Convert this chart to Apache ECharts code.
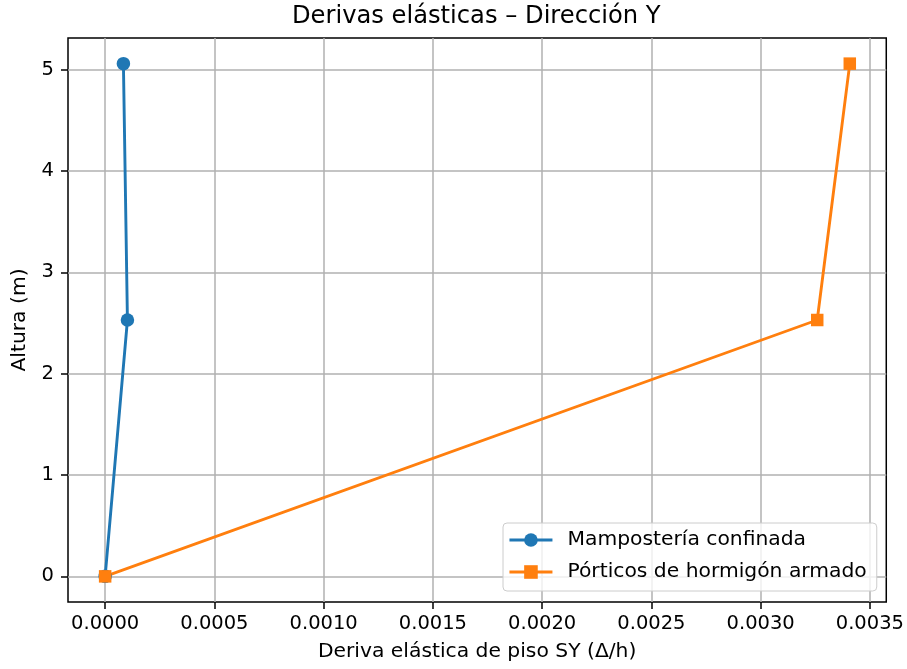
<!DOCTYPE html>
<html>
<head>
    <meta charset="UTF-8">
    <script src="https://cdn.jsdelivr.net/npm/echarts@6/dist/echarts.min.js"></script>
    <style>
        html, body { margin: 0; padding: 0; background: #fff; }
        #main { width: 907px; height: 669px; }
    </style>
</head>
<body>
    <div id="main"></div>
    <script>
        // datos
        var alturas = [0, 2.53, 5.06];
        var derivaMamposteria = [0, 0.000102, 0.0000836];
        var derivaPorticos = [0, 0.003259, 0.003408];
        var xTicks = [0, 0.0005, 0.0010, 0.0015, 0.0020, 0.0025, 0.0030, 0.0035];
        var yTicks = [0, 1, 2, 3, 4, 5];
        var nombres = ['Mampostería confinada', 'Pórticos de hormigón armado'];

        var pares = function (xs, ys) {
            var res = [];
            for (var i = 0; i < xs.length; i++) res.push([xs[i], ys[i]]);
            return res;
        };

        var fuente = 'DejaVu Sans';
        var myChart = echarts.init(document.getElementById('main'));

        var option = {
            animation: false,
            title: {
                text: 'Derivas elásticas – Dirección Y',
                left: 292,
                top: 5,
                padding: 0,
                textStyle: { fontFamily: fuente, fontSize: 24.2, fontWeight: 'normal', color: '#000' }
            },
            grid: {
                left: 68, right: 19, top: 38, bottom: 67,
                show: true,
                borderColor: '#000',
                borderWidth: 1.5,
                backgroundColor: 'transparent'
            },
            legend: {
                left: 503,
                top: 523,
                orient: 'vertical',
                padding: [7, 10, 9, 5],
                itemWidth: 43,
                itemHeight: 17,
                itemGap: 12,
                backgroundColor: 'rgba(255,255,255,0.8)',
                borderColor: '#cccccc',
                borderWidth: 1,
                borderRadius: 4,
                lineStyle: { width: 2.9 },
                textStyle: { fontFamily: fuente, fontSize: 20.3, color: '#000', padding: [0, 0, 0, 10] },
                data: nombres
            },
            xAxis: {
                type: 'value',
                min: -0.00017,
                max: 0.003575,
                splitNumber: 8,
                name: 'Deriva elástica de piso SY (Δ/h)',
                nameLocation: 'middle',
                nameGap: 40,
                nameTextStyle: { fontFamily: fuente, fontSize: 20.3, color: '#000' },
                axisLine: { show: false, onZero: false },
                axisTick: { show: true, length: 7, lineStyle: { color: '#000', width: 1.5 }, customValues: xTicks },
                axisLabel: {
                    margin: 12, fontFamily: fuente, fontSize: 19.5, color: '#000',
                    customValues: xTicks,
                    formatter: function (v) { return v.toFixed(4); }
                },
                splitLine: { show: true, lineStyle: { color: '#b0b0b0', width: 1.5 } }
            },
            yAxis: {
                type: 'value',
                min: -0.253,
                max: 5.313,
                splitNumber: 5,
                name: 'Altura (m)',
                nameLocation: 'middle',
                nameGap: 38,
                nameTextStyle: { fontFamily: fuente, fontSize: 20.3, color: '#000' },
                axisLine: { show: false, onZero: false },
                axisTick: { show: true, length: 7, lineStyle: { color: '#000', width: 1.5 }, customValues: yTicks },
                axisLabel: {
                    margin: 14, fontFamily: fuente, fontSize: 19.5, color: '#000',
                    customValues: yTicks
                },
                splitLine: { show: true, lineStyle: { color: '#b0b0b0', width: 1.5 } }
            },
            series: [
                {
                    name: nombres[0],
                    type: 'line',
                    data: pares(derivaMamposteria, alturas),
                    symbol: 'circle',
                    symbolSize: 13.5,
                    lineStyle: { color: '#1f77b4', width: 2.9 },
                    itemStyle: { color: '#1f77b4' }
                },
                {
                    name: nombres[1],
                    type: 'line',
                    data: pares(derivaPorticos, alturas),
                    symbol: 'rect',
                    symbolSize: 12.5,
                    lineStyle: { color: '#ff7f0e', width: 2.9 },
                    itemStyle: { color: '#ff7f0e' }
                }
            ]
        };
        myChart.setOption(option);
    </script>
</body>
</html>
